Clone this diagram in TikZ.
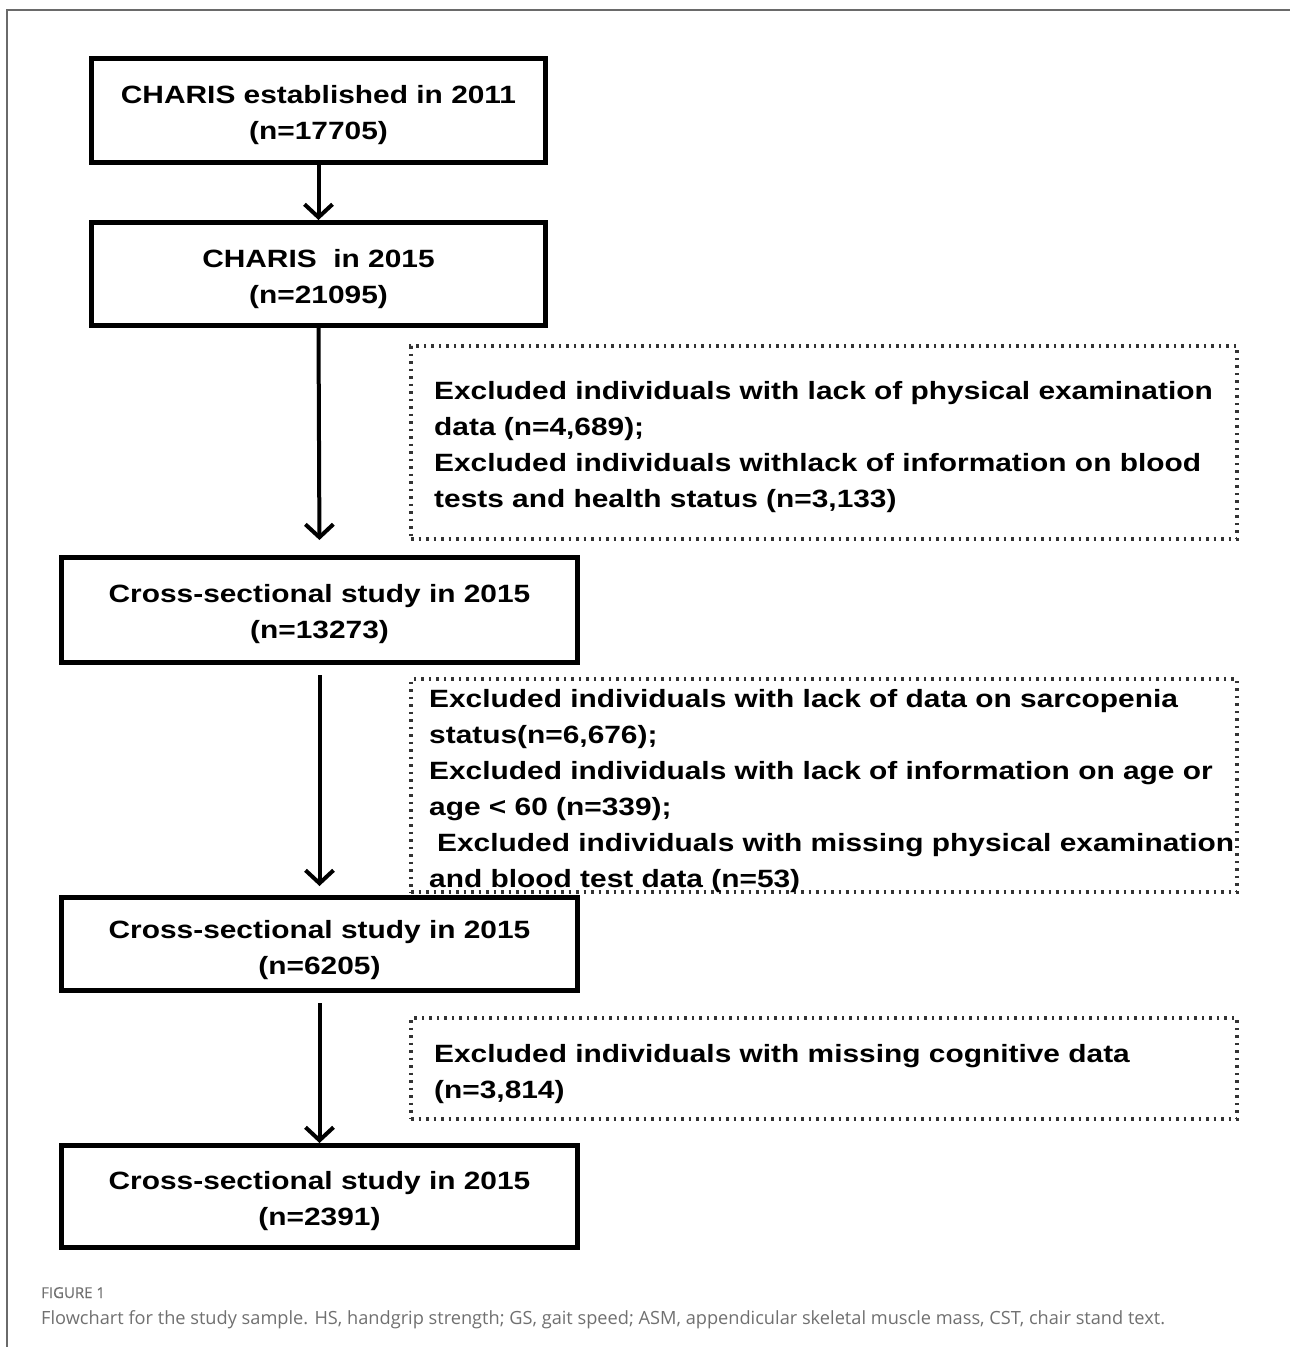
\documentclass[tikz,border=0pt]{standalone}
\usepackage{fontspec}
\setmainfont{Liberation Sans}
\newfontfamily\boxfont[FakeStretch=1.195]{Liberation Sans Bold}
\newfontfamily\capfont{Open Sans}
\newfontfamily\figfont[FakeBold=0.6]{Open Sans}
\usetikzlibrary{arrows.meta}
\definecolor{framegray}{HTML}{6A6A6A}
\definecolor{capgray}{HTML}{707070}
\begin{document}
\begin{tikzpicture}[x=1pt,y=-1pt,
  mainbox/.style={draw=black, line width=5pt, fill=white, inner sep=0pt},
  boxtext/.style={inner sep=0pt, align=center,
    font=\boxfont\fontsize{25}{36}\selectfont},
  dotbox/.style={draw=black!80, line width=4pt, dash pattern=on 2.5pt off 5pt, inner sep=0pt},
  dottext/.style={anchor=west, inner sep=0pt, align=left,
    font=\boxfont\fontsize{25}{36}\selectfont},
  arr/.style={line width=4pt, -{Straight Barb[length=13pt,width=28pt]}},
  framestyle/.style={draw=framegray, line width=1.2pt}
]
\useasboundingbox (0,0) rectangle (1290,1347);
\draw[framestyle] (7,1347) -- (7,10) -- (1290,10);

% main boxes
\node[mainbox, minimum width=454pt, minimum height=104pt] (b1) at (318.5,110.5) {};
\node[boxtext] (l1) at ([yshift=-5pt]b1.center) {CHARIS established in 2011\\(n=17705)};
\node[mainbox, minimum width=454pt, minimum height=103pt] (b2) at (318.5,274) {};
\node[boxtext] (l2) at ([yshift=-5pt]b2.center) {CHARIS\ \ in 2015\\(n=21095)};
\node[mainbox, minimum width=516pt, minimum height=105pt] (b3) at (319.5,610) {};
\node[boxtext] (l3) at ([yshift=-4.5pt]b3.center) {Cross-sectional study in 2015\\(n=13273)};
\node[mainbox, minimum width=516pt, minimum height=93pt] (b4) at (319.5,944) {};
\node[boxtext] (l4) at ([yshift=-6pt]b4.center) {Cross-sectional study in 2015\\(n=6205)};
\node[mainbox, minimum width=516pt, minimum height=102pt] (b5) at (319.5,1196.5) {};
\node[boxtext] (l5) at ([yshift=-5pt]b5.center) {Cross-sectional study in 2015\\(n=2391)};

% dotted exclusion boxes
\node[dotbox, minimum width=826pt, minimum height=193pt] (d1) at (824,442.5) {};
\node[dottext] (t1) at ([xshift=25pt]d1.west |- 0,447)
  {Excluded individuals with lack of physical examination\\
   data (n=4,689);\\
   Excluded individuals withlack of information on blood\\
   tests and health status (n=3,133)};

\node[dotbox, minimum width=826pt, minimum height=213pt] (d2) at (824,785.5) {};
\node[dottext] (t2) at ([xshift=20pt]d2.west |- 0,791)
  {Excluded individuals with lack of data on sarcopenia\\
   status(n=6,676);\\
   Excluded individuals with lack of information on age or\\
   age < 60 (n=339);\\
   \hspace*{8pt}Excluded individuals with missing physical examination\\
   and blood test data (n=53)};

\node[dotbox, minimum width=826pt, minimum height=101pt] (d3) at (824,1068.5) {};
\node[dottext] (t3) at ([xshift=25pt]d3.west |- 0,1074)
  {Excluded individuals with missing cognitive data\\
   (n=3,814)};

% arrows
\draw[arr] (b1.south) -- (b2.north);
\draw[arr, shorten >=15pt] (b2.south) -- (b3.north);
\draw[arr, shorten <=10pt, shorten >=9pt] (b3.south) -- (b4.north);
\draw[arr, shorten <=10pt] (b4.south) -- (b5.north);

% caption
\node[anchor=base west, inner sep=0pt, text=capgray, font=\figfont\fontsize{15}{17}\selectfont] (fig) at (41,1298) {FIGURE 1};
\node[anchor=base west, inner sep=0pt, text=capgray, font=\capfont\fontsize{18.2}{21}\selectfont] (cap) at (41,1324)
  {Flowchart for the study sample. HS, handgrip strength; GS, gait speed; ASM, appendicular skeletal muscle mass, CST, chair stand text.};
\end{tikzpicture}
\end{document}
